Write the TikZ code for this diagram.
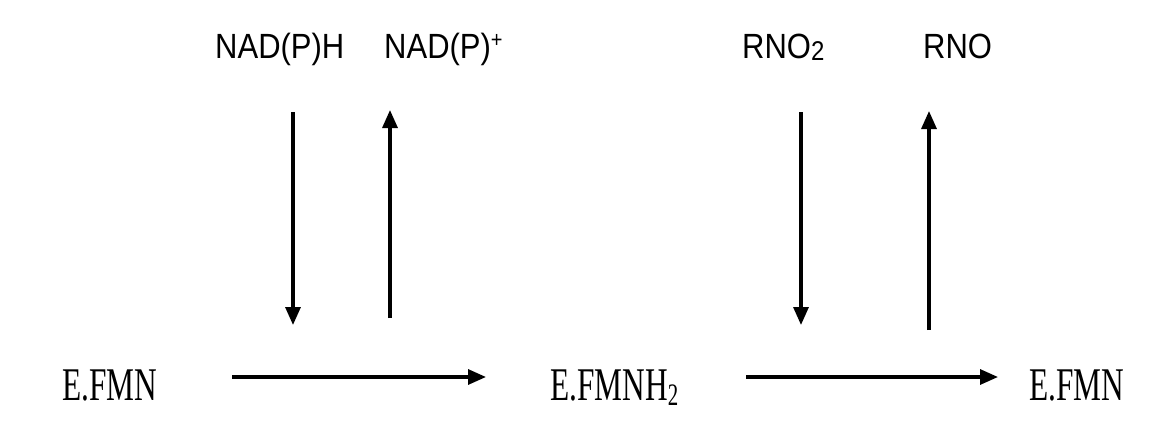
\documentclass[tikz,border=0pt]{standalone}
\usepackage{fontspec}
\setmainfont{Liberation Serif}
\setsansfont{Liberation Sans}
\usetikzlibrary{arrows.meta}
\tikzset{
  arr/.style={line width=3.2pt,-{Triangle[length=18pt,width=15pt]}},
  lab/.style={inner sep=0pt,anchor=base west,font=\sffamily\fontsize{31}{31}\selectfont},
  cpd/.style={inner sep=0pt,anchor=base west,font=\rmfamily\fontsize{33}{33}\selectfont}
}
\begin{document}
\begin{tikzpicture}[x=1pt,y=-1pt]
\useasboundingbox[fill=white] (0,0) rectangle (1176,423);
% top labels
\node[lab] (nadph) at (215,58) {\scalebox{1}[1.13]{NAD(P)H}};
\node[lab] (nadp) at (384,58) {\scalebox{1}[1.13]{NAD(P)\raisebox{9pt}{\fontsize{20}{20}\selectfont +}}};
\node[lab] (rno2) at (742,58) {\scalebox{1}[1.13]{RNO\raisebox{-2pt}{\fontsize{24}{24}\selectfont 2}}};
\node[lab] (rno) at (923,58) {\scalebox{1}[1.13]{RNO}};
% bottom compounds
\node[cpd] (efmn1) at (62,400) {\scalebox{0.95}[1.42]{E.FMN}};
\node[cpd] (efmnh2) at (550,400) {\scalebox{0.95}[1.42]{E.FMNH\raisebox{-4pt}{\fontsize{22}{22}\selectfont 2}}};
\node[cpd] (efmn2) at (1029,400) {\scalebox{0.95}[1.42]{E.FMN}};
% arrow endpoints
\coordinate (a1s) at (293,112);
\coordinate (a1e) at (293,325);
\coordinate (a2s) at (390,318);
\coordinate (a2e) at (390,110);
\coordinate (a3s) at (801,112);
\coordinate (a3e) at (801,325);
\coordinate (a4s) at (929,330);
\coordinate (a4e) at (929,111);
\coordinate (h1s) at (232,377);
\coordinate (h1e) at (486,377);
\coordinate (h2s) at (746,377);
\coordinate (h2e) at (998,377);
\draw[arr] (a1s) -- (a1e);
\draw[arr] (a2s) -- (a2e);
\draw[arr] (a3s) -- (a3e);
\draw[arr] (a4s) -- (a4e);
\draw[arr] (h1s) -- (h1e);
\draw[arr] (h2s) -- (h2e);
\end{tikzpicture}
\end{document}
